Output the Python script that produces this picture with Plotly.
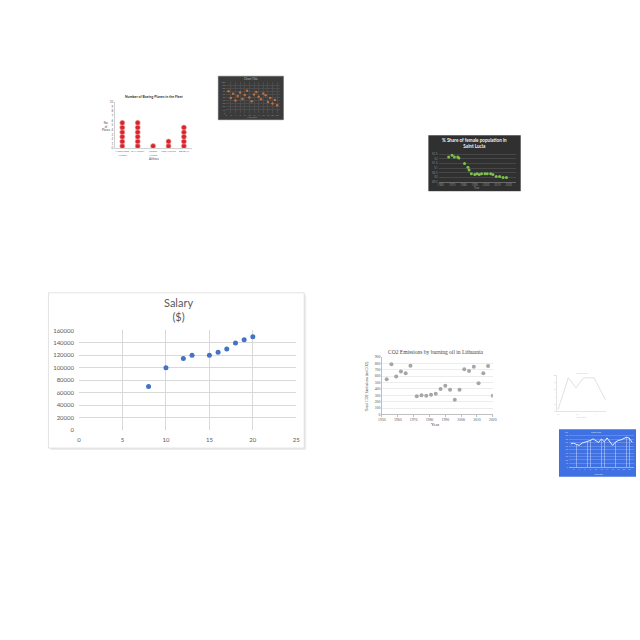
import plotly.graph_objects as go

W = H = 640

def fx(p):
    return p / W

def fy(p):
    return 1 - p / H

def dx(a, b):
    return [a / W, b / W]

def dy(top, bottom):
    return [1 - bottom / H, 1 - top / H]

# ---------------- data ----------------
# Salary chart
salary_x = [8, 10, 12, 13, 15, 16, 17, 18, 19, 20]
salary_y = [70000, 100000, 115000, 120000, 120000, 125000, 130000, 140000, 145000, 150000]

# CO2 emissions by burning oil in Lithuania
co2_years = [1953, 1956, 1959, 1962, 1965, 1968, 1972, 1975, 1978, 1981, 1984, 1987,
             1990, 1993, 1996, 1999, 2002, 2005, 2008, 2011, 2014, 2017, 2020]
co2_values = [550, 782, 592, 669, 643, 761, 283, 298, 293, 309, 324, 396,
              447, 386, 231, 386, 705, 679, 746, 489, 643, 756, 293]

# Boeing planes dot plot
airlines = ["Middle East<br>Airlines", "El Al (Israel)", "Jordan<br>Airlines",
            "Iraqi Airways", "EgyptAir"]
planes = [6, 6, 1, 2, 5]

# dark scatter chart
dark_x = [1, 2, 3, 4, 5, 6, 7, 8, 9, 10, 11, 12, 13, 14, 15, 16, 17, 18, 19, 20, 21, 22]
dark_y = [70, 48, 62, 40, 55, 66, 45, 58, 72, 50, 38, 60, 68, 52, 44, 63, 57, 35, 48, 30, 42, 25]

# % share of female population in Saint Lucia
lucia_years = [1967, 1970, 1972, 1975, 1976, 1981, 1984, 1985, 1987, 1990, 1992,
               1994, 1996, 1999, 2001, 2004, 2006, 2009, 2012, 2015, 2018]
lucia_share = [52.2, 52.4, 52.2, 52.2, 52.1, 51.5, 51.1, 50.8, 50.4, 50.3, 50.4,
               50.3, 50.4, 50.4, 50.4, 50.4, 50.3, 50.1, 50.1, 50.0, 50.0]

# faint line chart
faint_x = [0, 1.1, 1.9, 2.7, 3.8, 5]
faint_y = [0.5, 9.2, 6.5, 9.2, 9.2, 3.2]

# blue chart
blue_x = list(range(1, 24))
blue_y = [66.6, 68.6, 64.9, 62.0, 68.6, 70.6, 72.3, 76.3, 80.9, 76.3, 70.6, 80.9,
          72.3, 83.7, 74.3, 62.0, 71.4, 76.3, 78.0, 82.9, 85.7, 82.9, 71.4]

# ---------------- figure ----------------
fig = go.Figure()

fig.add_trace(go.Scatter(x=salary_x, y=salary_y, mode="markers",
                         marker=dict(color="#4472c4", size=5),
                         xaxis="x", yaxis="y", showlegend=False))
fig.add_trace(go.Scatter(x=co2_years, y=co2_values, mode="markers",
                         marker=dict(color="#a6a6a6", size=4),
                         xaxis="x2", yaxis="y2", showlegend=False))
bx, by = [], []
for i, n in enumerate(planes):
    for k in range(n):
        bx.append(i)
        by.append(k + 0.5)
fig.add_trace(go.Scatter(x=bx, y=by, mode="markers",
                         marker=dict(color="#d7262b", size=5,
                                     line=dict(color="#f3a0a0", width=0.6)),
                         xaxis="x3", yaxis="y3", showlegend=False))
fig.add_trace(go.Scatter(x=dark_x, y=dark_y, mode="markers",
                         marker=dict(color="#c0703a", size=2.5),
                         xaxis="x4", yaxis="y4", showlegend=False))
fig.add_trace(go.Scatter(x=lucia_years, y=lucia_share, mode="markers",
                         marker=dict(color="#7cc24a", size=3),
                         xaxis="x5", yaxis="y5", showlegend=False))
fig.add_trace(go.Scatter(x=faint_x, y=faint_y, mode="lines",
                         line=dict(color="#d8d8d8", width=0.8),
                         xaxis="x6", yaxis="y6", showlegend=False))
fig.add_trace(go.Bar(x=blue_x, y=blue_y, width=0.12,
                     marker=dict(color="rgba(220,230,255,0.45)", line=dict(width=0)),
                     xaxis="x7", yaxis="y7", showlegend=False))
fig.add_trace(go.Scatter(x=blue_x, y=blue_y, mode="lines",
                         line=dict(color="#e6eeff", width=1),
                         xaxis="x7", yaxis="y7", showlegend=False))

grid = "#d9d9d9"
txt = "#595959"
small = dict(family="Lato", size=6, color=txt)

layout = dict(
    width=W, height=H, margin=dict(l=0, r=0, t=0, b=0),
    paper_bgcolor="white", plot_bgcolor="rgba(0,0,0,0)",
    showlegend=False, bargap=0,
    # Salary
    xaxis=dict(domain=dx(76, 296), anchor="y", range=[0, 25], dtick=5,
               showgrid=True, gridcolor=grid, gridwidth=0.7, zeroline=False,
               tickfont=small, showline=False, ticks="", tickangle=0,
               ticklabelstandoff=5),
    yaxis=dict(domain=dy(330, 431), anchor="x", range=[0, 160000], dtick=20000,
               showgrid=True, gridcolor=grid, gridwidth=0.7, zeroline=False,
               tickfont=small, showline=False, ticks="", tickformat="d",
               ticklabelstandoff=4),
    # CO2
    xaxis2=dict(domain=dx(382.7, 495), anchor="y2", range=[1950, 2020], dtick=10,
                showgrid=False, zeroline=False, showline=True, linecolor="#bfbfbf",
                linewidth=0.6, ticks="outside", ticklen=1.5, tickcolor="#bfbfbf",
                tickangle=0,
                tickfont=dict(family="Liberation Serif", size=3.8, color="#555")),
    yaxis2=dict(domain=dy(356.7, 415), anchor="x2", range=[0, 900], dtick=100,
                showgrid=True, gridcolor="#ececec", gridwidth=0.5, zeroline=False,
                showline=True, linecolor="#bfbfbf", linewidth=0.6,
                tickfont=dict(family="Liberation Serif", size=3.8, color="#555")),
    # Boeing
    xaxis3=dict(domain=dx(112, 190), anchor="y3", range=[-0.5, 4.5],
                tickvals=[0, 1, 2, 3, 4], ticktext=airlines, tickangle=0,
                showgrid=False, zeroline=False, showline=True, linecolor="#d0d0d0",
                linewidth=0.6, tickfont=dict(family="Lato", size=2.6, color="#666")),
    yaxis3=dict(domain=dy(99, 146), anchor="x3", range=[0, 10], dtick=1,
                showgrid=False, zeroline=False, showline=True, linecolor="#d0d0d0",
                linewidth=0.6, tickfont=dict(family="Lato", size=3, color="#666")),
    # dark scatter
    xaxis4=dict(domain=dx(225, 279), anchor="y4", range=[0, 23], dtick=2,
                showgrid=True, gridcolor="#4c4c4c", gridwidth=0.4, zeroline=False,
                tickangle=0, tickfont=dict(size=2.3, color="#9a9a9a")),
    yaxis4=dict(domain=dy(79, 110), anchor="x4", range=[0, 100], dtick=10,
                showgrid=True, gridcolor="#4c4c4c", gridwidth=0.4, zeroline=False,
                tickfont=dict(size=2.3, color="#9a9a9a")),
    # Saint Lucia
    xaxis5=dict(domain=dx(440, 518), anchor="y5", range=[1958, 2026],
                tickvals=[1960, 1970, 1980, 1990, 2000, 2010, 2020], tickangle=0,
                showgrid=False, zeroline=False, showline=True, linecolor="#6a6a6a",
                linewidth=0.5, tickfont=dict(size=2.8, color="#9a9a9a")),
    yaxis5=dict(domain=dy(150, 180), anchor="x5", range=[49.5, 52.7], dtick=0.5,
                showgrid=True, gridcolor="#474747", gridwidth=0.4, zeroline=False,
                tickfont=dict(size=2.8, color="#9a9a9a")),
    # faint line
    xaxis6=dict(domain=dx(560, 610), anchor="y6", range=[-0.1, 5.1], dtick=2,
                showgrid=False, zeroline=False, showline=True, linecolor="#e4e4e4",
                linewidth=0.5, tickangle=0, tickfont=dict(size=2.5, color="#bbb")),
    yaxis6=dict(domain=dy(375, 412), anchor="x6", range=[0, 10], dtick=2,
                showgrid=False, zeroline=False, showline=True, linecolor="#e4e4e4",
                linewidth=0.5, tickfont=dict(size=2.5, color="#bbb")),
    # blue
    xaxis7=dict(domain=dx(572, 638), anchor="y7", range=[0.3, 23.7], dtick=2,
                showgrid=False, zeroline=False, showline=True, linecolor="#8fb0f5",
                linewidth=0.5, tickangle=0, tickfont=dict(size=2, color="#c9d8ff")),
    yaxis7=dict(domain=dy(433, 468), anchor="x7", range=[0, 100], dtick=10,
                showgrid=True, gridcolor="rgba(200,215,255,0.25)", gridwidth=0.4,
                zeroline=False, tickfont=dict(size=2, color="#c9d8ff")),
)
fig.update_layout(**layout)


def rect(x0, y0, x1, y1, fill, line="rgba(0,0,0,0)", lw=0):
    return dict(type="rect", xref="paper", yref="paper", layer="below",
                x0=fx(x0), x1=fx(x1), y0=fy(y1), y1=fy(y0),
                fillcolor=fill, line=dict(color=line, width=lw))


shapes = [
    rect(47, 294, 306, 451, "#ececec"),
    rect(45, 292, 304, 449, "white", "#dcdcdc", 0.8),
    rect(217, 73, 283, 117, "#3b3b3b", "#595959", 0.5),
    rect(430, 133, 523, 189, "#303030", "#3c3c3c", 0.5),
    rect(562, 430, 640, 478, "#4071e3"),
]
fig.update_layout(shapes=shapes)


def ann(x, y, text, size, color, family="Lato", angle=0, bold=False):
    if bold:
        text = "<b>" + text + "</b>"
    return dict(x=fx(x), y=fy(y), xref="paper", yref="paper", text=text,
                showarrow=False, textangle=angle, xanchor="center", yanchor="middle",
                font=dict(size=size, color=color, family=family))


annotations = [
    ann(177, 309, "Salary<br>($)", 11, txt),
    ann(437, 352, "CO2 Emissions by burning oil in Lithuania", 5.5, "#444", "Liberation Serif"),
    ann(367, 386, "Total CO2 Emissions (mtCO2)", 4, "#444", "Liberation Serif", angle=-90),
    ann(437, 425, "Year", 4.5, "#444", "Liberation Serif"),
    ann(152, 94, "Number of Boeing Planes in the Fleet", 3.5, "#333", bold=True),
    ann(152, 157, "Airlines", 3, "#444"),
    ann(104, 124, "No.<br>of<br>Planes", 2.8, "#444"),
    ann(250, 76, "Chart Title", 3, "#bdbdbd"),
    ann(252, 115, "Axis Title", 2.5, "#9a9a9a"),
    ann(476, 141, "% Share of female population in<br>Saint Lucia", 4.6, "#f2f2f2", bold=True),
    ann(478, 186.5, "Year", 2.8, "#9a9a9a"),
    ann(585, 374, "Chart Title", 2.5, "#c8c8c8"),
    ann(585, 418, "Axis Title", 2.5, "#c8c8c8"),
    ann(600, 433, "Chart Title", 2.2, "#d8e2ff"),
    ann(603, 475.5, "Axis Title", 2.2, "#d8e2ff"),
]
fig.update_layout(annotations=annotations)

fig.write_html("out.html", config={"displayModeBar": False},
               post_script="document.body.style.margin='0';")
